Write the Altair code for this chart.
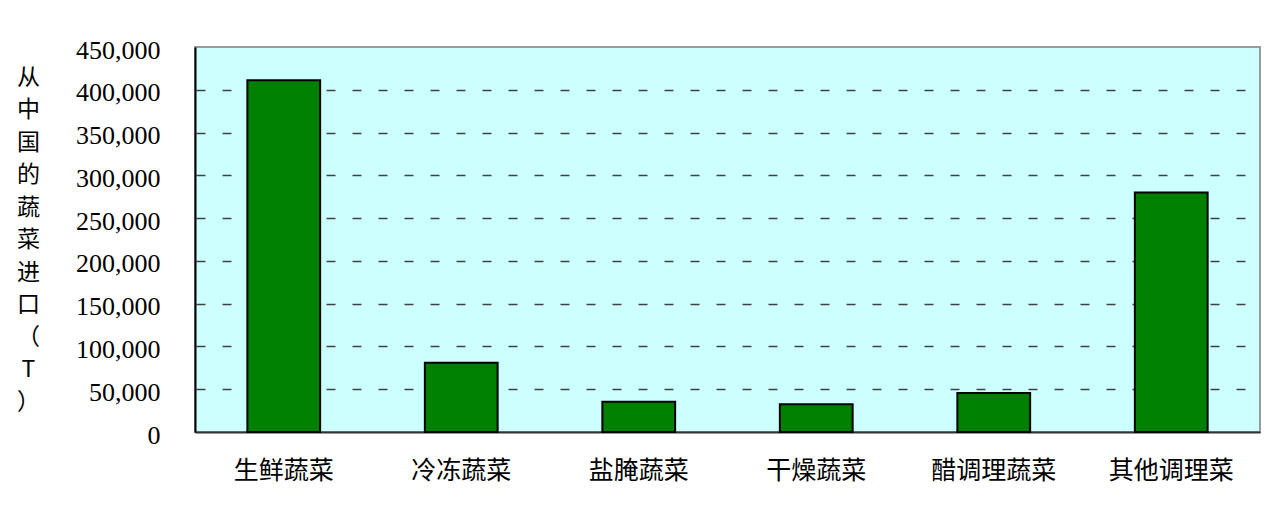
import altair as alt
import pandas as pd

categories = ["生鲜蔬菜", "冷冻蔬菜", "盐腌蔬菜", "干燥蔬菜", "醋调理蔬菜", "其他调理菜"]
values = [411000, 81000, 35500, 32500, 45500, 280000]
y_ticks = [0, 50000, 100000, 150000, 200000, 250000, 300000, 350000, 400000, 450000]
title_chars = ["从", "中", "国", "的", "蔬", "菜", "进", "口", "（", "T", "）"]

df = pd.DataFrame({"cat": categories, "val": values})

chart = (
    alt.Chart(df)
    .mark_bar(color="#008000", stroke="#000000", strokeWidth=2)
    .encode(
        x=alt.X(
            "cat:N",
            sort=categories,
            scale=alt.Scale(paddingInner=0.59, paddingOuter=0.295),
            axis=alt.Axis(
                title=None,
                labelAngle=0,
                labelFont="Noto Sans CJK SC",
                labelFontSize=25,
                labelColor="#000000",
                labelPadding=26,
                ticks=False,
                domainColor="#333333",
                domainWidth=2,
                grid=False,
            ),
        ),
        y=alt.Y(
            "val:Q",
            scale=alt.Scale(domain=[0, 450000], nice=False),
            axis=alt.Axis(
                values=y_ticks,
                format=",.0f",
                labelFont="Liberation Serif",
                labelFontSize=26,
                labelColor="#000000",
                labelPadding=35,
                labelOffset=3,
                ticks=False,
                domainColor="#000000",
                domainWidth=2,
                grid=True,
                gridColor="#404040",
                gridWidth=1.5,
                gridDash=[9, 17],
                gridDashOffset=25,
                gridOpacity={"expr": "datum.value >= 450000 || datum.value <= 0 ? 0 : 1"},
                title=title_chars,
                titleAngle=0,
                titleFont="Noto Sans CJK SC",
                titleFontSize=23,
                titleFontWeight="normal",
                titleColor="#000000",
                titleLineHeight=32.5,
                titleAlign="center",
                titleBaseline="top",
                titleX=-167,
                titleY=19,
            ),
        ),
    )
    .properties(
        width=1065,
        height=385,
        padding={"left": 187, "top": 39, "right": 10, "bottom": 67},
        autosize=alt.AutoSizeParams(type="none"),
        background="white",
    )
    .configure_view(fill="#CCFFFF", stroke="#9a9a9a", strokeWidth=2)
)

chart.save("out.html", embed_options={"renderer": "svg", "actions": False})
